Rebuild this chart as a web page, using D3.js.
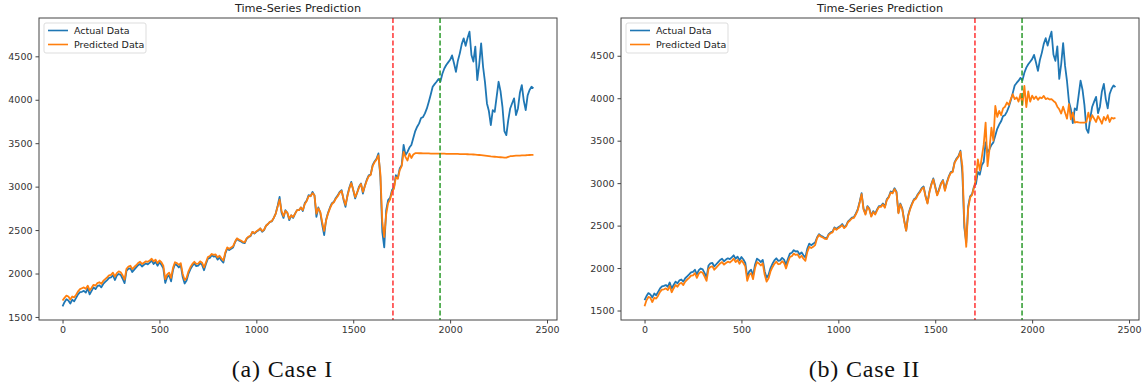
<!DOCTYPE html>
<html>
<head>
<meta charset="utf-8">
<script src="https://cdn.jsdelivr.net/npm/d3@7"></script>
<style>
  body { margin: 0; background: #fff; }
  svg text { font-family: "DejaVu Sans", sans-serif; }
  .tick text { font-size: 9.5px; fill: #333; }
  .tick line { stroke: #444; }
</style>
</head>
<body>
<svg id="chart" width="1143" height="390"></svg>
<script>
// sampled every 10 steps (index = i * 10)
const step = 10;
const actual = [
  1623,1670,1705,1690,1654,1700,1680,1720,1760,1785,1790,1800,1780,1830,1760,1800,1840,1820,1855,1865,
  1840,1880,1903,1925,1950,1955,1980,1925,1975,1995,1985,1940,1890,2030,2055,2060,2018,2045,2070,2095,
  2110,2080,2100,2115,2105,2125,2150,2110,2135,2090,2130,2100,2060,1892,1960,1980,1910,2040,2110,2095,
  2070,2096,1960,1885,1920,2000,2050,2090,2115,2085,2090,2120,2100,2038,2110,2170,2180,2211,2195,2200,
  2160,2185,2150,2125,2230,2288,2270,2285,2300,2360,2400,2380,2370,2355,2350,2400,2420,2430,2479,2460,
  2480,2495,2518,2480,2500,2550,2570,2594,2600,2640,2690,2780,2882,2700,2640,2729,2700,2614,2670,2640,
  2690,2730,2729,2760,2720,2810,2840,2902,2890,2940,2900,2652,2760,2700,2560,2441,2620,2700,2760,2810,
  2825,2870,2900,2940,2960,2850,2767,2900,2990,3055,2960,2864,2930,3000,3037,2921,3010,3080,3130,3140,
  3248,3290,3320,3382,3113,2480,2300,2729,2844,2870,2960,2990,3132,3100,3210,3248,3480,3363,3400,3450,
  3480,3560,3640,3690,3728,3790,3800,3843,3900,3977,4060,4150,4180,4207,4240,4210,4300,4360,4400,4430,
  4460,4510,4420,4322,4450,4534,4640,4707,4620,4710,4783,4515,4440,4611,4227,4400,4649,4380,4200,3958,
  3870,3708,3881,3860,4034,4207,4100,3919,3640,3593,3766,3900,3960,4016,3824,3900,4080,4169,3990,3881,
  4050,4112,4150,4131
];
const predCase1 = [
  1690,1720,1745,1735,1700,1735,1725,1755,1795,1820,1830,1840,1825,1860,1805,1835,1870,1860,1890,1900,
  1880,1915,1935,1955,1980,1985,2010,1965,2005,2025,2015,1980,1930,2055,2080,2090,2050,2075,2095,2120,
  2135,2110,2125,2140,2135,2150,2170,2140,2160,2120,2150,2130,2090,1935,1990,2010,1950,2065,2130,2120,
  2100,2120,1995,1925,1950,2025,2075,2110,2135,2110,2115,2140,2125,2070,2130,2190,2200,2225,2215,2220,
  2185,2205,2175,2150,2245,2300,2285,2300,2315,2365,2405,2390,2380,2365,2360,2405,2425,2435,2480,2465,
  2485,2500,2520,2490,2505,2550,2570,2595,2605,2640,2690,2770,2850,2720,2660,2720,2700,2630,2670,2650,
  2690,2730,2730,2760,2730,2800,2835,2890,2890,2925,2900,2690,2750,2710,2590,2490,2610,2690,2750,2800,
  2820,2860,2890,2930,2950,2860,2790,2890,2980,3040,2965,2880,2930,2990,3030,2940,3005,3070,3120,3135,
  3235,3280,3310,3360,3150,2600,2420,2680,2810,2850,2940,2975,3110,3090,3190,3235,3400,3340,3300,3380,
  3330,3370,3385,3385,3384,3384,3383,3383,3382,3382,3381,3381,3380,3380,3380,3379,3379,3379,3378,3378,
  3378,3377,3377,3376,3376,3375,3375,3374,3374,3373,3372,3371,3370,3368,3366,3364,3362,3360,3357,3354,
  3351,3348,3346,3344,3342,3340,3338,3336,3334,3333,3342,3350,3352,3355,3356,3357,3358,3360,3359,3361,
  3362,3364,3365,3366
];
const predCase2 = [
  1550,1620,1660,1650,1600,1650,1640,1675,1720,1745,1750,1760,1740,1790,1715,1760,1800,1780,1815,1825,
  1800,1840,1865,1885,1910,1915,1940,1885,1935,1955,1945,1900,1850,1990,2015,2020,1980,2005,2030,2055,
  2070,2040,2060,2075,2065,2085,2110,2070,2095,2050,2090,2060,2020,1850,1920,1940,1870,2000,2070,2055,
  2030,2056,1920,1840,1880,1960,2010,2050,2075,2045,2050,2080,2060,1995,2070,2130,2140,2170,2155,2160,
  2120,2145,2110,2085,2190,2250,2235,2250,2270,2350,2390,2370,2360,2345,2340,2390,2410,2420,2470,2450,
  2470,2485,2505,2470,2490,2540,2560,2585,2590,2630,2680,2770,2870,2690,2630,2720,2690,2605,2660,2630,
  2680,2720,2720,2750,2710,2800,2830,2890,2880,2930,2890,2645,2750,2690,2550,2440,2610,2690,2750,2800,
  2815,2860,2890,2930,2950,2840,2760,2890,2980,3045,2950,2855,2920,2990,3030,2910,3000,3070,3120,3130,
  3240,3280,3310,3370,3200,2550,2250,2700,2830,2860,2950,3050,3279,3150,3300,3450,3713,3200,3400,3654,
  3500,3909,3780,3850,3800,3880,3900,3949,3920,3990,4047,3990,4010,3960,4050,3920,4145,3896,4080,3960,
  4030,3990,4020,3980,4010,4000,4027,3990,4000,3985,3990,3968,3950,3900,3870,3820,3900,3830,3760,3929,
  3752,3830,3713,3720,3715,3713,3713,3712,3720,3831,3733,3800,3760,3720,3790,3750,3700,3780,3740,3800,
  3720,3770,3760,3770
];
const splitLines = [1705, 1948];          // red: train/val, green: val/test
const xTicks = [0, 500, 1000, 1500, 2000, 2500];
const yTicks = [1500, 2000, 2500, 3000, 3500, 4000, 4500];
const legendLabels = ["Actual Data", "Predicted Data"];
const panelTitle = "Time-Series Prediction";
const captions = ["(a) Case I", "(b) Case II"];

const blue = "#1f77b4", orange = "#ff7f0e";
const svg = d3.select("#chart");

function drawPanel(left, right, pred, caption) {
  const top = 18, bottom = 320;
  const g = svg.append("g");

  const n = actual.length;
  const xPad = (n - 1) * step * 0.05;
  const x = d3.scaleLinear()
    .domain([-xPad, (n - 1) * step + xPad])
    .range([left, right]);

  const lo = d3.min([d3.min(actual), d3.min(pred)]);
  const hi = d3.max([d3.max(actual), d3.max(pred)]);
  const yPad = (hi - lo) * 0.05;
  const y = d3.scaleLinear().domain([lo - yPad, hi + yPad]).range([bottom, top]);

  // axes
  g.append("g")
    .attr("transform", `translate(0,${bottom})`)
    .call(d3.axisBottom(x).tickValues(xTicks).tickFormat(d3.format("d")).tickSize(3.5).tickPadding(3))
    .call(a => a.select(".domain").remove());
  g.append("g")
    .attr("transform", `translate(${left},0)`)
    .call(d3.axisLeft(y).tickValues(yTicks).tickFormat(d3.format("d")).tickSize(3.5).tickPadding(3))
    .call(a => a.select(".domain").remove());

  g.append("clipPath").attr("id", "clip" + left)
    .append("rect").attr("x", left).attr("y", top)
    .attr("width", right - left).attr("height", bottom - top);

  const line = d3.line().x((d, i) => x(i * step)).y(d => y(d));
  const plot = g.append("g").attr("clip-path", `url(#clip${left})`);

  plot.append("path").datum(actual)
    .attr("d", line).attr("fill", "none")
    .attr("stroke", blue).attr("stroke-width", 1.8).attr("stroke-linejoin", "round");
  plot.append("path").datum(pred)
    .attr("d", line).attr("fill", "none")
    .attr("stroke", orange).attr("stroke-width", 1.8).attr("stroke-linejoin", "round");

  plot.selectAll(".split").data(splitLines).enter().append("line")
    .attr("x1", d => x(d)).attr("x2", d => x(d))
    .attr("y1", top).attr("y2", bottom)
    .attr("stroke", (d, i) => i == 0 ? "#f33" : "#2a9a2a")
    .attr("stroke-width", 1.5)
    .attr("stroke-dasharray", "5,2.5");

  // frame
  g.append("rect")
    .attr("x", left).attr("y", top)
    .attr("width", right - left).attr("height", bottom - top)
    .attr("fill", "none").attr("stroke", "#444").attr("stroke-width", 1);

  // title
  g.append("text")
    .attr("x", (left + right) / 2).attr("y", 12)
    .attr("text-anchor", "middle")
    .style("font-size", "11.3px").style("fill", "#222")
    .text(panelTitle);

  // legend
  const lg = g.append("g").attr("transform", `translate(${left + 5},${top + 5})`);
  lg.append("rect")
    .attr("width", 102).attr("height", 30).attr("rx", 2)
    .attr("fill", "#fff").attr("stroke", "#ddd");
  lg.selectAll(".lgline").data(legendLabels).enter().append("line")
    .attr("x1", 4).attr("x2", 24)
    .attr("y1", (d, i) => 7.5 + i * 14).attr("y2", (d, i) => 7.5 + i * 14)
    .attr("stroke", (d, i) => i == 0 ? blue : orange).attr("stroke-width", 1.6);
  lg.selectAll(".lgtext").data(legendLabels).enter().append("text")
    .attr("x", 30).attr("y", (d, i) => 11 + i * 14)
    .style("font-size", "9.5px").style("fill", "#222")
    .text(d => d);

  // caption below panel
  svg.append("text")
    .attr("x", left + (right - left) * 0.47).attr("y", 377)
    .attr("text-anchor", "middle")
    .style("font-family", "'Liberation Serif', 'DejaVu Serif', serif")
    .style("font-size", "24px").style("letter-spacing", "0.8px").style("fill", "#111")
    .text(caption);
}

drawPanel(39, 557, predCase1, captions[0]);
drawPanel(621, 1139, predCase2, captions[1]);
</script>
</body>
</html>
